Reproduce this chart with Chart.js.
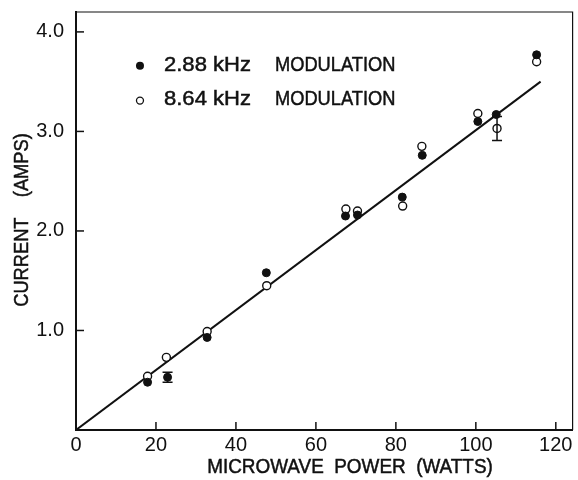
<!DOCTYPE html>
<html>
<head>
<meta charset="utf-8">
<script src="https://cdn.jsdelivr.net/npm/chart.js@4"></script>
<style>
    html, body { margin: 0; padding: 0; background: #ffffff; overflow: hidden; }
    #wrap { width: 578px; height: 480px; }
</style>
</head>
<body>
<div id="wrap"><canvas id="main-graph"></canvas></div>
<script>

// values
const power_filled   = [17.9, 22.9, 32.8, 47.6, 67.4, 70.4, 81.6, 86.6, 100.5, 105.1, 115.2];
const current_filled = [0.48, 0.53, 0.93, 1.58, 2.15, 2.16, 2.34, 2.76, 3.10, 3.17, 3.77];
const error_filled   = [0,    0.05, 0,    0,    0,    0,    0,    0,    0,    0,    0];

const power_open     = [17.9, 22.6, 32.8, 47.7, 67.5, 70.4, 81.7, 86.5, 100.5, 105.3, 115.2];
const current_open   = [0.54, 0.73, 0.99, 1.45, 2.22, 2.20, 2.25, 2.85, 3.18, 3.03, 3.70];
const error_open     = [0,    0,    0,    0,    0,    0,    0,    0,    0,    0.12, 0];

const fit_power   = [0, 116.2];
const fit_current = [0, 3.50];

const x_ticks = [0, 20, 40, 60, 80, 100, 120];
const y_ticks = [1.0, 2.0, 3.0, 4.0];

const series_freq  = ["2.88 kHz", "8.64 kHz"];
const series_label = "MODULATION";

const font_name = "'Liberation Sans', Arial, sans-serif";
const ink = "#111111";

function to_points(xs, ys)
{
    let pts = [];
    for(let i = 0; i < xs.length; i++)
        pts.push({x: xs[i], y: ys[i]});
    return pts;
}

// text squeezed sideways, the original lettering is narrower than Liberation
function narrow_text(ctx, text, x, y, sx)
{
    ctx.save();
    ctx.translate(x, y);
    ctx.scale(sx, 1);
    ctx.fillText(text, 0, 0);
    ctx.lineWidth = 0.5;
    ctx.strokeText(text, 0, 0);
    ctx.restore();
}

// inward ticks, top/right frame, error bars, legend and axis titles
const extras_plugin = {
    id: "extras",
    afterDatasetsDraw(chart)
    {
        const ctx = chart.ctx;
        const area = chart.chartArea;
        const xs = chart.scales.x;
        const ys = chart.scales.y;

        ctx.save();
        ctx.strokeStyle = ink;

        // thin frame on top and right
        ctx.lineWidth = 1.2;
        ctx.beginPath();
        ctx.moveTo(area.left, area.top);
        ctx.lineTo(area.right, area.top);
        ctx.lineTo(area.right, area.bottom);
        ctx.stroke();

        // tick marks pointing into the plot
        ctx.lineWidth = 1.5;
        for(const v of x_ticks)
        {
            if(v === 0) continue;
            const px = xs.getPixelForValue(v);
            ctx.beginPath();
            ctx.moveTo(px, area.bottom);
            ctx.lineTo(px, area.bottom - 8);
            ctx.stroke();
        }
        for(const v of y_ticks)
        {
            const py = ys.getPixelForValue(v);
            ctx.beginPath();
            ctx.moveTo(area.left, py);
            ctx.lineTo(area.left + 8, py);
            ctx.stroke();
        }

        // error bars
        const bars = [[power_filled, current_filled, error_filled], [power_open, current_open, error_open]];
        ctx.lineWidth = 1.5;
        for(const b of bars)
        {
            for(let i = 0; i < b[0].length; i++)
            {
                if(!b[2][i]) continue;
                const px = xs.getPixelForValue(b[0][i]);
                const top = ys.getPixelForValue(b[1][i] + b[2][i]);
                const bot = ys.getPixelForValue(b[1][i] - b[2][i]);
                ctx.beginPath();
                ctx.moveTo(px, top);
                ctx.lineTo(px, bot);
                ctx.moveTo(px - 5, top);
                ctx.lineTo(px + 5, top);
                ctx.moveTo(px - 5, bot);
                ctx.lineTo(px + 5, bot);
                ctx.stroke();
            }
        }

        // legend inside the plot
        ctx.font = "21px " + font_name;
        ctx.textBaseline = "middle";
        ctx.textAlign = "left";
        ctx.fillStyle = ink;
        const lx = xs.getPixelForValue(16);
        const rows = [ys.getPixelForValue(3.66), ys.getPixelForValue(3.31)];
        for(let k = 0; k < 2; k++)
        {
            ctx.beginPath();
            ctx.arc(lx, rows[k], k === 0 ? 4 : 3.5, 0, Math.PI * 2);
            if(k === 0)
                ctx.fill();
            else
            {
                ctx.fillStyle = "#ffffff";
                ctx.fill();
                ctx.fillStyle = ink;
                ctx.lineWidth = 1.3;
                ctx.stroke();
            }
            narrow_text(ctx, series_freq[k], lx + 24, rows[k] - 1, 1.05);
            narrow_text(ctx, series_label, lx + 135, rows[k] - 1, 0.87);
        }

        // axis titles
        ctx.font = "21px " + font_name;
        ctx.textAlign = "center";
        narrow_text(ctx, "MICROWAVE  POWER  (WATTS)", 350, 467, 0.9);

        ctx.save();
        ctx.translate(22, 220);
        ctx.rotate(-Math.PI / 2);
        narrow_text(ctx, "CURRENT    (AMPS)", 0, 0, 0.87);
        ctx.restore();

        ctx.restore();
    }
};

function initGraph()
{
    const main_graph = document.getElementById("main-graph");

    new Chart(main_graph, {
        type: "scatter",
        data: {
            datasets: [
                {
                    label: series_freq[0] + " " + series_label,
                    data: to_points(power_filled, current_filled),
                    pointRadius: 4,
                    pointBackgroundColor: ink,
                    pointBorderColor: ink,
                    pointBorderWidth: 1
                },
                {
                    label: series_freq[1] + " " + series_label,
                    data: to_points(power_open, current_open),
                    pointRadius: 4,
                    pointBackgroundColor: "#ffffff",
                    pointBorderColor: ink,
                    pointBorderWidth: 1.4
                },
                {
                    label: "fit",
                    type: "line",
                    data: to_points(fit_power, fit_current),
                    borderColor: ink,
                    borderWidth: 2,
                    pointRadius: 0,
                    fill: false,
                    order: 5
                }
            ]
        },
        options: {
            responsive: true,
            maintainAspectRatio: false,
            animation: false,
            layout: { padding: { top: 12, right: 0, left: 0, bottom: 0 } },
            plugins: {
                legend: { display: false },
                tooltip: { enabled: false }
            },
            scales: {
                x: {
                    type: "linear",
                    min: 0,
                    max: 124.2,
                    afterBuildTicks: function(scale){ scale.ticks = x_ticks.map(v => ({value: v})); },
                    afterFit: function(scale)
                    {
                        scale.height = 50;
                        scale.paddingLeft = 0;
                        scale.paddingRight = 0;
                    },
                    grid: { display: false, drawTicks: false },
                    border: { display: true, color: ink, width: 2 },
                    ticks: {
                        color: ink,
                        padding: 3,
                        maxRotation: 0,
                        font: { family: font_name, size: 20 },
                        callback: function(v){ return String(v); }
                    }
                },
                y: {
                    type: "linear",
                    min: 0,
                    max: 4.2,
                    afterBuildTicks: function(scale){ scale.ticks = y_ticks.map(v => ({value: v})); },
                    afterFit: function(scale)
                    {
                        scale.width = 76;
                        scale.paddingTop = 0;
                        scale.paddingBottom = 0;
                    },
                    grid: { display: false, drawTicks: false },
                    border: { display: true, color: ink, width: 2 },
                    ticks: {
                        color: ink,
                        padding: 12,
                        font: { family: font_name, size: 20 },
                        callback: function(v){ return Number(v).toFixed(1); }
                    }
                }
            }
        },
        plugins: [extras_plugin]
    });
}

initGraph();
</script>
</body>
</html>
